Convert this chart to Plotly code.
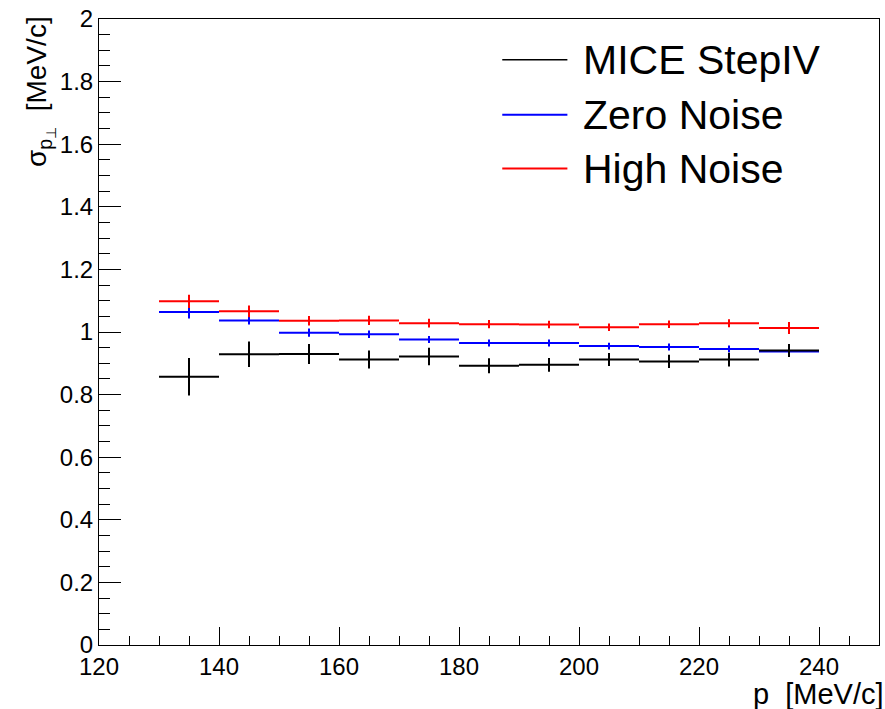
import plotly.graph_objects as go

# ---- data ----
bin_lo = [130, 140, 150, 160, 170, 180, 190, 200, 210, 220, 230]
bin_hi = [140, 150, 160, 170, 180, 190, 200, 210, 220, 230, 240]

series_names = ["MICE StepIV", "Zero Noise", "High Noise"]
series_colors = ["#000000", "#0000ff", "#ff0000"]

mice_vals = [0.857, 0.929, 0.930, 0.912, 0.922, 0.892, 0.895, 0.912, 0.906, 0.912, 0.941]
mice_errs = [0.060, 0.041, 0.032, 0.029, 0.028, 0.024, 0.022, 0.021, 0.021, 0.022, 0.021]

zero_vals = [1.064, 1.037, 0.998, 0.993, 0.976, 0.965, 0.965, 0.955, 0.952, 0.946, 0.938]
zero_errs = [0.021, 0.013, 0.013, 0.012, 0.011, 0.011, 0.011, 0.011, 0.011, 0.011, 0.014]

high_vals = [1.098, 1.066, 1.036, 1.037, 1.028, 1.025, 1.024, 1.015, 1.025, 1.028, 1.013]
high_errs = [0.021, 0.019, 0.015, 0.015, 0.014, 0.013, 0.012, 0.012, 0.012, 0.013, 0.019]

x_title = "p  [MeV/c]"
y_title = "σ<sub>p<sub>⊥</sub></sub>  [MeV/c]"

FONT = "Liberation Sans, Arial, Helvetica, sans-serif"

centers = [(a + b) / 2 for a, b in zip(bin_lo, bin_hi)]
halfw = [(b - a) / 2 for a, b in zip(bin_lo, bin_hi)]

fig = go.Figure()

draw_order = [(1, zero_vals, zero_errs), (2, high_vals, high_errs), (0, mice_vals, mice_errs)]
for idx, vals, errs in draw_order:
    c = series_colors[idx]
    fig.add_trace(go.Scatter(
        x=centers, y=vals, mode="markers",
        marker=dict(size=1, color=c, opacity=0),
        error_x=dict(type="data", array=halfw, symmetric=True, width=0, thickness=2, color=c),
        error_y=dict(type="data", array=errs, symmetric=True, width=0, thickness=2, color=c),
        name=series_names[idx], showlegend=False, hoverinfo="skip",
    ))

# manual legend (ROOT-style long line samples)
leg_y = [0.935, 0.847, 0.761]
for name, col, yy in zip(series_names, series_colors, leg_y):
    fig.add_shape(type="line", xref="paper", yref="paper",
                  x0=0.517, x1=0.6005, y0=yy, y1=yy,
                  line=dict(color=col, width=2 if col != "#000000" else 1.5))
    fig.add_annotation(xref="paper", yref="paper", x=0.6185, y=yy,
                       xanchor="left", yanchor="middle", text=name, showarrow=False,
                       font=dict(family=FONT, size=41, color="black"))

# axis titles
fig.add_annotation(xref="paper", yref="paper", x=1.009, y=-0.107,
                   xanchor="right", yanchor="bottom", text=x_title, showarrow=False,
                   font=dict(family=FONT, size=29, color="black"))
fig.add_annotation(xref="paper", yref="paper", x=-0.075, y=1.008,
                   xanchor="center", yanchor="top", text=y_title, showarrow=False,
                   textangle=-90,
                   font=dict(family=FONT, size=28, color="black"))

fig.update_layout(
    width=885, height=709,
    margin=dict(l=99, r=5, t=17, b=64),
    paper_bgcolor="white", plot_bgcolor="white",
    font=dict(family=FONT, size=24, color="black"),
    showlegend=False,
)
fig.update_xaxes(
    range=[120, 250], tickmode="linear", tick0=120, dtick=20,
    ticks="inside", ticklen=18, tickwidth=1, tickcolor="black",
    minor=dict(ticks="inside", ticklen=9, tickwidth=1, tickcolor="black", dtick=5, tick0=120, showgrid=False),
    showline=True, linecolor="black", linewidth=1, mirror=True,
    showgrid=False, zeroline=False, tickfont=dict(size=24),
)
fig.update_yaxes(
    range=[0, 2], tickmode="linear", tick0=0, dtick=0.2,
    ticks="inside", ticklen=22, tickwidth=1, tickcolor="black",
    minor=dict(ticks="inside", ticklen=11, tickwidth=1, tickcolor="black", dtick=0.05, tick0=0, showgrid=False),
    showline=True, linecolor="black", linewidth=1, mirror=True,
    showgrid=False, zeroline=False, tickfont=dict(size=24),
)

fig.write_html(
    "out.html",
    config={"displayModeBar": False},
    post_script="document.body.style.margin='0';document.body.style.overflow='hidden';",
)
